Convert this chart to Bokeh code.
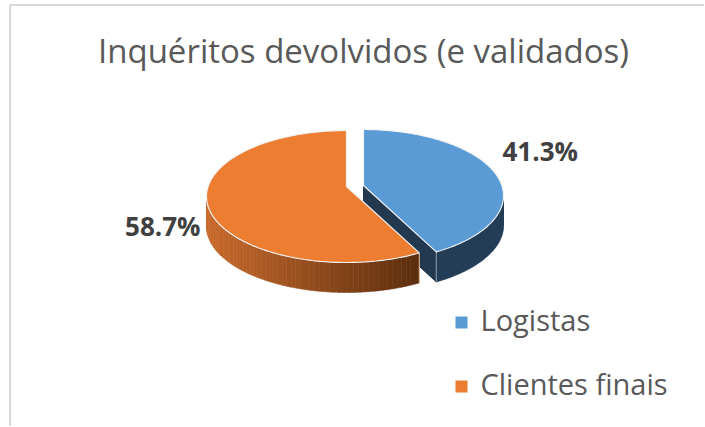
import math
from bokeh.plotting import figure
from bokeh.models import Range1d
from bokeh.core.properties import value
from bokeh.embed import file_html
from bokeh.resources import INLINE

# ---- data ----
categories = ["Logistas", "Clientes finais"]
shares = [41.3, 58.7]
pct_labels = ["41.3%", "58.7%"]
top_colors = ["#5B9BD5", "#ED7D31"]
title_text = "Inquéritos devolvidos (e validados)"

# ---- layout / style constants ----
RX, RY, DEPTH, TIP_DY = 140.0, 66.0, 30.0, -10.0
CENTERS = [(363.0, 195.0), (346.0, 196.0)]      # blue exploded slightly to the right
LABEL_POS = [(502, 150, "left"), (200, 225, "right")]
LEG_X, LEG_Y = [461, 461], [322, 386]
LEG_TEXT_X, LEG_TEXT_Y = 480, [319, 383]
TITLE_X, TITLE_Y = 363, 50
SIDE_BLUE = "#243D57"
ORANGE_SIDE_LIGHT = (0xC9, 0x6A, 0x2C)
ORANGE_SIDE_DARK = (0x5C, 0x2E, 0x0E)

W, H = 704, 426
p = figure(width=W, height=H, output_backend="svg", toolbar_location=None,
           x_range=Range1d(0, W), y_range=Range1d(H, 0),
           min_border=0, outline_line_color=None)
p.axis.visible = False
p.grid.visible = False
p.background_fill_color = "white"
p.border_fill_color = "white"

# chart frame edges visible in reference (left and top)
p.line([9.5, 9.5], [H, 4.5], line_color="#D9D9D9", line_width=2)
p.line([9.5, W], [4.5, 4.5], line_color="#D9D9D9", line_width=2)


def pt(c, phi, dy=0.0):
    return (c[0] + RX * math.sin(phi), c[1] - RY * math.cos(phi) + dy)


def arc(c, a0, a1, n=120, dy=0.0):
    return [pt(c, a0 + (a1 - a0) * i / n, dy) for i in range(n + 1)]


def tip(c, dy=0.0):
    return (c[0], c[1] + TIP_DY + dy)


total = sum(shares)
angles = []
cum = 0.0
for s in shares:
    a0 = cum / total * 2 * math.pi
    cum += s
    a1 = cum / total * 2 * math.pi
    angles.append((a0, a1))

# ---- blue slice side faces ----
bc = CENTERS[0]
ba0, ba1 = angles[0]
w0, w1 = max(ba0, math.pi / 2), min(ba1, 3 * math.pi / 2)
pts = arc(bc, w0, w1) + arc(bc, w1, w0, dy=DEPTH)
p.patch([q[0] for q in pts], [q[1] for q in pts], fill_color=SIDE_BLUE, line_color=SIDE_BLUE)
e = pt(bc, ba1)
face = [tip(bc), e, (e[0], e[1] + DEPTH), tip(bc, DEPTH)]
p.patch([q[0] for q in face], [q[1] for q in face], fill_color="#22394F", line_color="#22394F")
p.line([e[0], e[0]], [e[1], e[1] + DEPTH], line_color="#8FA3B8", line_width=1)

# ---- orange slice side wall (gradient strips) ----
oc = CENTERS[1]
oa0, oa1 = angles[1]
w0, w1 = max(oa0, math.pi / 2), min(oa1, 3 * math.pi / 2)
N = 60
xl = oc[0] - RX
xr = pt(oc, w0)[0]
for i in range(N):
    s0 = w0 + (w1 - w0) * i / N
    s1 = w0 + (w1 - w0) * (i + 1) / N
    t = arc(oc, s0, s1, n=4)
    b = arc(oc, s1, s0, n=4, dy=DEPTH)
    poly = t + b
    xm = (t[0][0] + t[-1][0]) / 2
    f = min(max((xm - xl) / (xr - xl), 0), 1)
    rgb = tuple(int(ORANGE_SIDE_LIGHT[k] + (ORANGE_SIDE_DARK[k] - ORANGE_SIDE_LIGHT[k]) * f) for k in range(3))
    col = "#%02X%02X%02X" % rgb
    p.patch([q[0] for q in poly], [q[1] for q in poly], fill_color=col, line_color=col, line_width=0.6)
e = pt(oc, oa0)
p.line([e[0], e[0]], [e[1], e[1] + DEPTH], line_color="#E8C4A8", line_width=1)

# ---- top surfaces ----
for idx in (1, 0):
    c = CENTERS[idx]
    a0, a1 = angles[idx]
    poly = [tip(c)] + arc(c, a0, a1, n=200) + [tip(c)]
    p.patch([q[0] for q in poly], [q[1] for q in poly], fill_color=top_colors[idx],
            line_color="#F2F2F2", line_width=1.2)

# ---- percentage labels ----
for (lx, ly, al), txt in zip(LABEL_POS, pct_labels):
    p.text(x=[lx], y=[ly], text=[txt], text_font=value("Open Sans"), text_font_style="bold",
           text_font_size="26px", text_color="#404040", text_align=al, text_baseline="middle")

# ---- title ----
p.text(x=[TITLE_X], y=[TITLE_Y], text=[title_text], text_font=value("Open Sans"), text_font_size="33px",
       text_color="#595959", text_align="center", text_baseline="middle")

# ---- legend ----
p.scatter(x=LEG_X, y=LEG_Y, marker="square", size=12, fill_color=top_colors, line_color=None)
p.text(x=[LEG_TEXT_X] * 2, y=LEG_TEXT_Y, text=categories, text_font=value("Open Sans"),
       text_font_size="29px", text_color="#595959", text_align="left", text_baseline="middle")

open("out.html", "w").write(file_html(p, INLINE))
